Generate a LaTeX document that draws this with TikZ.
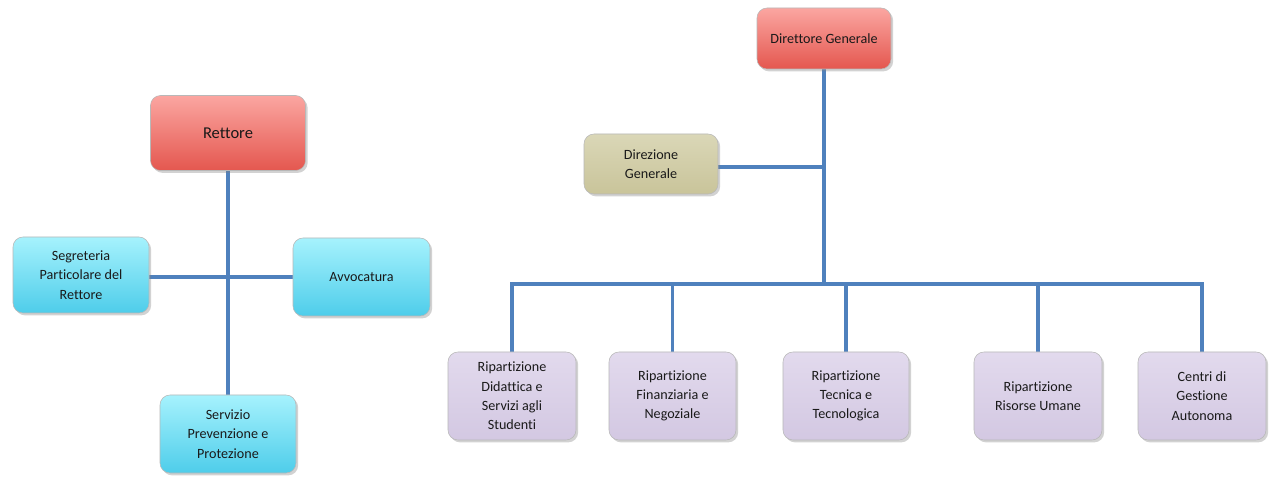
\documentclass[tikz,border=0pt]{standalone}
\usepackage{fontspec}
\setmainfont{Carlito}[Ligatures=NoCommon]
\usetikzlibrary{shadows,backgrounds}

\definecolor{linkblue}{HTML}{4F81BD}
\definecolor{redtop}{HTML}{FBA6A1}
\definecolor{redbot}{HTML}{E4574F}
\definecolor{cyantop}{HTML}{A6F2FD}
\definecolor{cyanbot}{HTML}{4ECDEA}
\definecolor{khaki}{HTML}{D1CDA5}
\definecolor{khakibot}{HTML}{C9C49A}
\definecolor{lilac}{HTML}{DDD3EA}
\definecolor{lilacbot}{HTML}{D3C8E2}
\definecolor{boxedge}{HTML}{B8B8B8}

\tikzset{
  box/.style={
    draw=boxedge, line width=0.4pt, rounded corners=7.5pt,
    align=center, inner sep=2pt, text=black!90,
    font=\fontsize{10.6}{14.5}\selectfont,
    drop shadow={opacity=0.35, shadow xshift=1.6pt, shadow yshift=-1.8pt}
  },
  redbox/.style={box, top color=redtop, bottom color=redbot},
  cyanbox/.style={box, top color=cyantop, bottom color=cyanbot},
  khakibox/.style={box, top color=khaki!80!white, bottom color=khakibot},
  lilacbox/.style={box, top color=lilac!85!white, bottom color=lilacbot},
  link/.style={draw=linkblue, line width=2.3pt, line join=miter}
}

\begin{document}
\begin{tikzpicture}[x=0.75pt,y=-0.75pt]
  \useasboundingbox (0,0) rectangle (1271,484);

  % left chart: rector and staff offices
  \node[redbox, minimum width=155*0.75pt, minimum height=75*0.75pt,
        font=\fontsize{12.4}{15}\selectfont] (rett) at (228,133) {Rettore};
  \node[cyanbox, minimum width=136*0.75pt, minimum height=76*0.75pt] (segr) at (81,275)
        {Segreteria\\Particolare del\\Rettore};
  \node[cyanbox, minimum width=137*0.75pt, minimum height=78*0.75pt] (avv) at (361.5,277)
        {Avvocatura};
  \node[cyanbox, minimum width=136*0.75pt, minimum height=78*0.75pt] (serv) at (228,434)
        {Servizio\\Prevenzione e\\Protezione};
  \coordinate (hub) at (228,277);

  % right chart: general management and divisions
  \node[redbox, minimum width=134*0.75pt, minimum height=61*0.75pt] (dirg) at (824,38.5)
        {Direttore Generale};
  \node[khakibox, minimum width=134*0.75pt, minimum height=60*0.75pt] (dirz) at (651,164)
        {Direzione\\Generale};
  \node[lilacbox, minimum width=128*0.75pt, minimum height=88*0.75pt] (did) at (512,396)
        {Ripartizione\\Didattica e\\Servizi agli\\Studenti};
  \node[lilacbox, minimum width=127*0.75pt, minimum height=88*0.75pt] (fin) at (672.5,396)
        {Ripartizione\\Finanziaria e\\Negoziale};
  \node[lilacbox, minimum width=126*0.75pt, minimum height=88*0.75pt] (tec) at (846,396)
        {Ripartizione\\Tecnica e\\Tecnologica};
  \node[lilacbox, minimum width=128*0.75pt, minimum height=88*0.75pt] (ris) at (1038,396)
        {Ripartizione\\Risorse Umane};
  \node[lilacbox, minimum width=128*0.75pt, minimum height=88*0.75pt] (cen) at (1202,396)
        {Centri di\\Gestione\\Autonoma};
  \coordinate (bus) at (824,284);
  \coordinate (tap) at (824,167);

  \begin{scope}[on background layer]
    \fill[white] (0,0) rectangle (1271,484);
    % left connectors
    \draw[link] (rett.south) -- (serv.north);
    \draw[link] (segr.east |- hub) -- (avv.west |- hub);
    % right connectors
    \draw[link] (dirg.south) -- (bus);
    \draw[link] (dirz.east |- tap) -- (tap);
    \draw[link] (did.north) -- (did.north |- bus) -- (cen.north |- bus) -- (cen.north);
    \draw[link] (fin.north) -- (fin.north |- bus);
    \draw[link] (tec.north) -- (tec.north |- bus);
    \draw[link] (ris.north) -- (ris.north |- bus);
  \end{scope}
\end{tikzpicture}
\end{document}
